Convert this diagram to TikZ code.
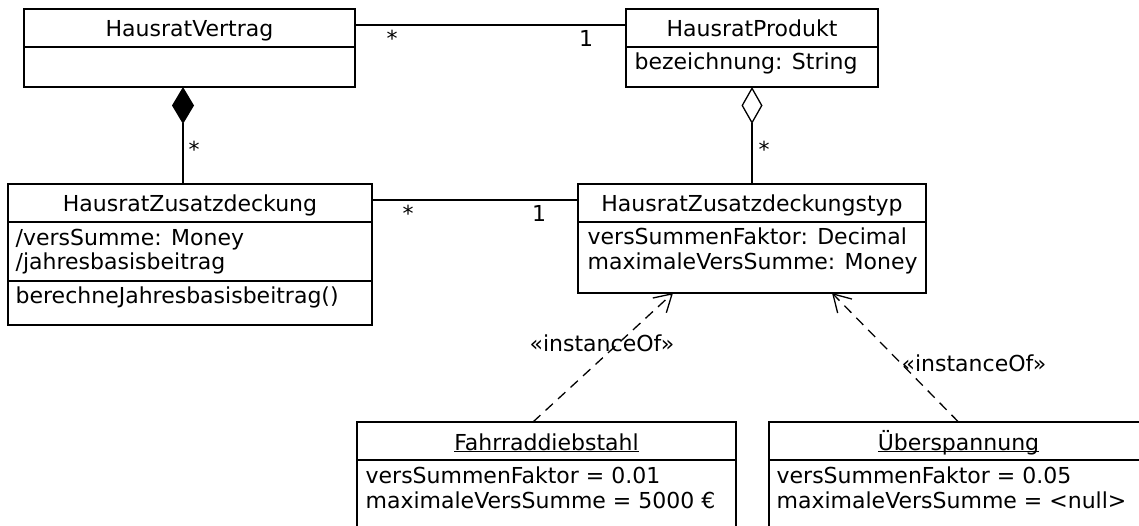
\documentclass[tikz,border=0pt]{standalone}
\usepackage{fontspec}
\setmainfont{DejaVu Sans}
\usepackage{tikz}
\usetikzlibrary{arrows.meta}
\newcommand{\objname}[1]{\underline{\smash{#1}}}

\begin{document}
\begin{tikzpicture}[x=1pt,y=-1pt,line width=1.3pt,
    font=\fontsize{22}{25}\selectfont,
    classhead/.style={draw,anchor=north west,minimum height=38pt,
      text height=18pt,text depth=0pt,inner sep=0pt,outer sep=0pt},
    classbody/.style={draw,anchor=north west,inner sep=0pt,outer sep=0pt},
    member/.style={anchor=base west,inner sep=0pt},
    mult/.style={anchor=base,inner sep=0pt},
    stereo/.style={anchor=base,inner sep=0pt},
    dependency/.style={dash pattern=on 10pt off 7pt,
      -{Straight Barb[length=17pt,width=20pt]}}]

    \useasboundingbox (0,0) rectangle (1139,526);

    % classes
    \node[classhead,minimum width=331pt] (vertraghead) at (24,9) {HausratVertrag};
    \node[classbody,minimum width=331pt,minimum height=40pt] (vertragbody)
      at (vertraghead.south west) {};

    \node[classhead,minimum width=252pt] (produkthead) at (626,9) {HausratProdukt};
    \node[classbody,minimum width=252pt,minimum height=40pt] (produktbody)
      at (produkthead.south west) {};
    \node[member] (produktattr) at (634,70) {bezeichnung: String};

    \node[classhead,minimum width=364pt] (zusatzhead) at (8,184) {HausratZusatzdeckung};
    \node[classbody,minimum width=364pt,minimum height=59pt] (zusatzbody)
      at (zusatzhead.south west) {};
    \node[classbody,minimum width=364pt,minimum height=44pt] (zusatzops)
      at (zusatzbody.south west) {};
    \node[member] (zusatzattr1) at (15,246) {/versSumme: Money};
    \node[member] (zusatzattr2) at (15,270) {/jahresbasisbeitrag};
    \node[member] (zusatzop) at (15,303) {berechneJahresbasisbeitrag()};

    \node[classhead,minimum width=348pt] (typhead) at (578,184) {HausratZusatzdeckungstyp};
    \node[classbody,minimum width=348pt,minimum height=71pt] (typbody)
      at (typhead.south west) {};
    \node[member] (typattr1) at (587,245) {versSummenFaktor: Decimal};
    \node[member] (typattr2) at (587,270) {maximaleVersSumme: Money};

    % instances
    \node[classhead,minimum width=379pt] (fahrradhead) at (357,422) {\objname{Fahrraddiebstahl}};
    \node[classbody,minimum width=379pt,minimum height=100pt] (fahrradbody)
      at (fahrradhead.south west) {};
    \node[member] (fahrradslot1) at (365,483) {versSummenFaktor = 0.01};
    \node[member] (fahrradslot2) at (365,508) {maximaleVersSumme = 5000 €};

    \node[classhead,minimum width=379pt] (ueberhead) at (769,422) {\objname{Überspannung}};
    \node[classbody,minimum width=379pt,minimum height=100pt] (ueberbody)
      at (ueberhead.south west) {};
    \node[member] (ueberslot1) at (776,483) {versSummenFaktor = 0.05};
    \node[member] (ueberslot2) at (776,508) {maximaleVersSumme = <null>};

    % associations
    \draw ([yshift=3pt]vertraghead.east) -- ([yshift=3pt]produkthead.west);
    \node[mult] (vertragmult) at (392,47) {*};
    \node[mult] (produktmult) at (586,47) {1};

    \draw ([yshift=3pt]zusatzhead.east) -- ([yshift=3pt]typhead.west);
    \node[mult] (zusatzmult) at (408,222) {*};
    \node[mult] (typmult) at (539,222) {1};

    \draw[{Diamond[length=37pt,width=22pt]}-]
      ([xshift=-6.5pt]vertragbody.south) -- ([xshift=-7pt]zusatzhead.north);
    \node[mult] (compmult) at (194,158) {*};

    \draw[{Diamond[open,length=37pt,width=21pt]}-]
      (produktbody.south) -- (typhead.north);
    \node[mult] (aggmult) at (764,158) {*};

    % instanceOf
    \draw[dependency] ([xshift=-13.5pt]fahrradhead.north) -- ([xshift=-79pt]typbody.south);
    \node[stereo] (fahrradstereo) at (602,351) {«instanceOf»};
    \draw[dependency] (ueberhead.north) -- ([xshift=80pt]typbody.south);
    \node[stereo] (ueberstereo) at (974,371) {«instanceOf»};
  \end{tikzpicture}
\end{document}
